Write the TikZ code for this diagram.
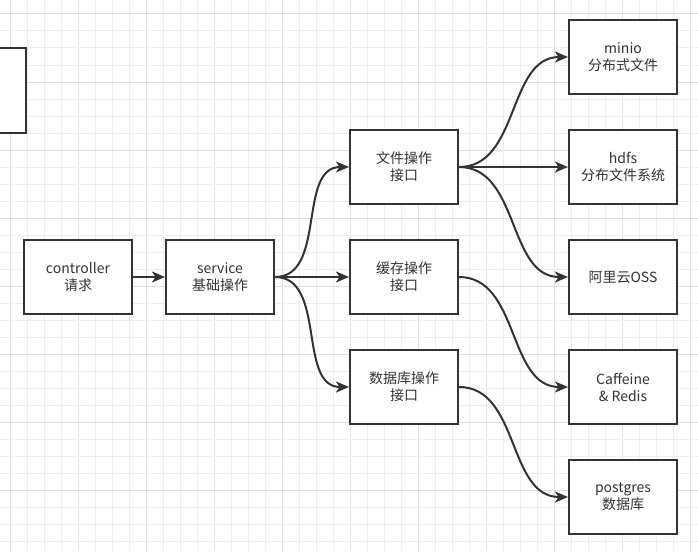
\documentclass[tikz,border=0pt]{standalone}
\usepackage{fontspec}
\setmainfont{Noto Sans CJK SC}
\usepackage{tikz}
\usetikzlibrary{arrows.meta,positioning}
\definecolor{LineDark}{HTML}{333333}
\definecolor{TextDark}{HTML}{333333}
\definecolor{GridMinor}{HTML}{EEEEEE}
\definecolor{GridMajor}{HTML}{E0E0E0}

\begin{document}
\begin{tikzpicture}[
		x=1pt,y=-1pt,
		node distance=34pt and 32pt,
		box/.style={draw=LineDark,line width=2pt,fill=white,minimum width=108pt,minimum height=74pt,align=center,text=TextDark,font=\fontsize{14pt}{17pt}\selectfont},
		arr/.style={-{Stealth[length=13pt,width=11pt,inset=3.5pt]},line width=2pt,LineDark}
	]
	\useasboundingbox (0,0) rectangle (698,551);
	% grid
	\foreach \k in {0,...,40}{
		\pgfmathtruncatemacro{\maj}{mod(\k,4)==0}
		\ifnum\maj=1 \def\gc{GridMajor}\else\def\gc{GridMinor}\fi
		\draw[\gc,line width=1pt] (10.7+17*\k,0) -- (10.7+17*\k,551);
	}
	\foreach \k in {0,...,31}{
		\pgfmathtruncatemacro{\maj}{mod(\k,4)==0}
		\ifnum\maj=1 \def\gc{GridMajor}\else\def\gc{GridMinor}\fi
		\draw[\gc,line width=1pt] (0,14+17*\k) -- (698,14+17*\k);
	}
	% nodes
	\node[box,minimum height=85pt] (side) at (-28,90.5) {};
	\node[box] (ctrl) at (78,277) {controller\\请求};
	\node[box,right=of ctrl] (svc) {service\\基础操作};
	\node[box,right=74pt of svc] (cache) {缓存操作\\接口};
	\node[box,above=of cache] (file) {文件操作\\接口};
	\node[box,below=of cache] (db) {数据库操作\\接口};
	\node[box,right=109pt of cache] (oss) {阿里云OSS};
	\node[box,above=of oss] (hdfs) {hdfs\\分布文件系统};
	\node[box,above=of hdfs] (minio) {minio\\分布式文件};
	\node[box,below=of oss] (caff) {Caffeine\\\& Redis};
	\node[box,below=of caff] (pg) {postgres\\数据库};
	% edges
	\draw[arr] (ctrl)--(svc);
	\draw[arr] (svc.east) to[out=0,in=180] (file.west);
	\draw[arr] (svc)--(cache);
	\draw[arr] (svc.east) to[out=0,in=180] (db.west);
	\draw[arr] (file.east) to[out=0,in=180] (minio.west);
	\draw[arr] (file)--(hdfs);
	\draw[arr] (file.east) to[out=0,in=180] (oss.west);
	\draw[arr] (cache.east) to[out=0,in=180] (caff.west);
	\draw[arr] (db.east) to[out=0,in=180] (pg.west);
\end{tikzpicture}
\end{document}
